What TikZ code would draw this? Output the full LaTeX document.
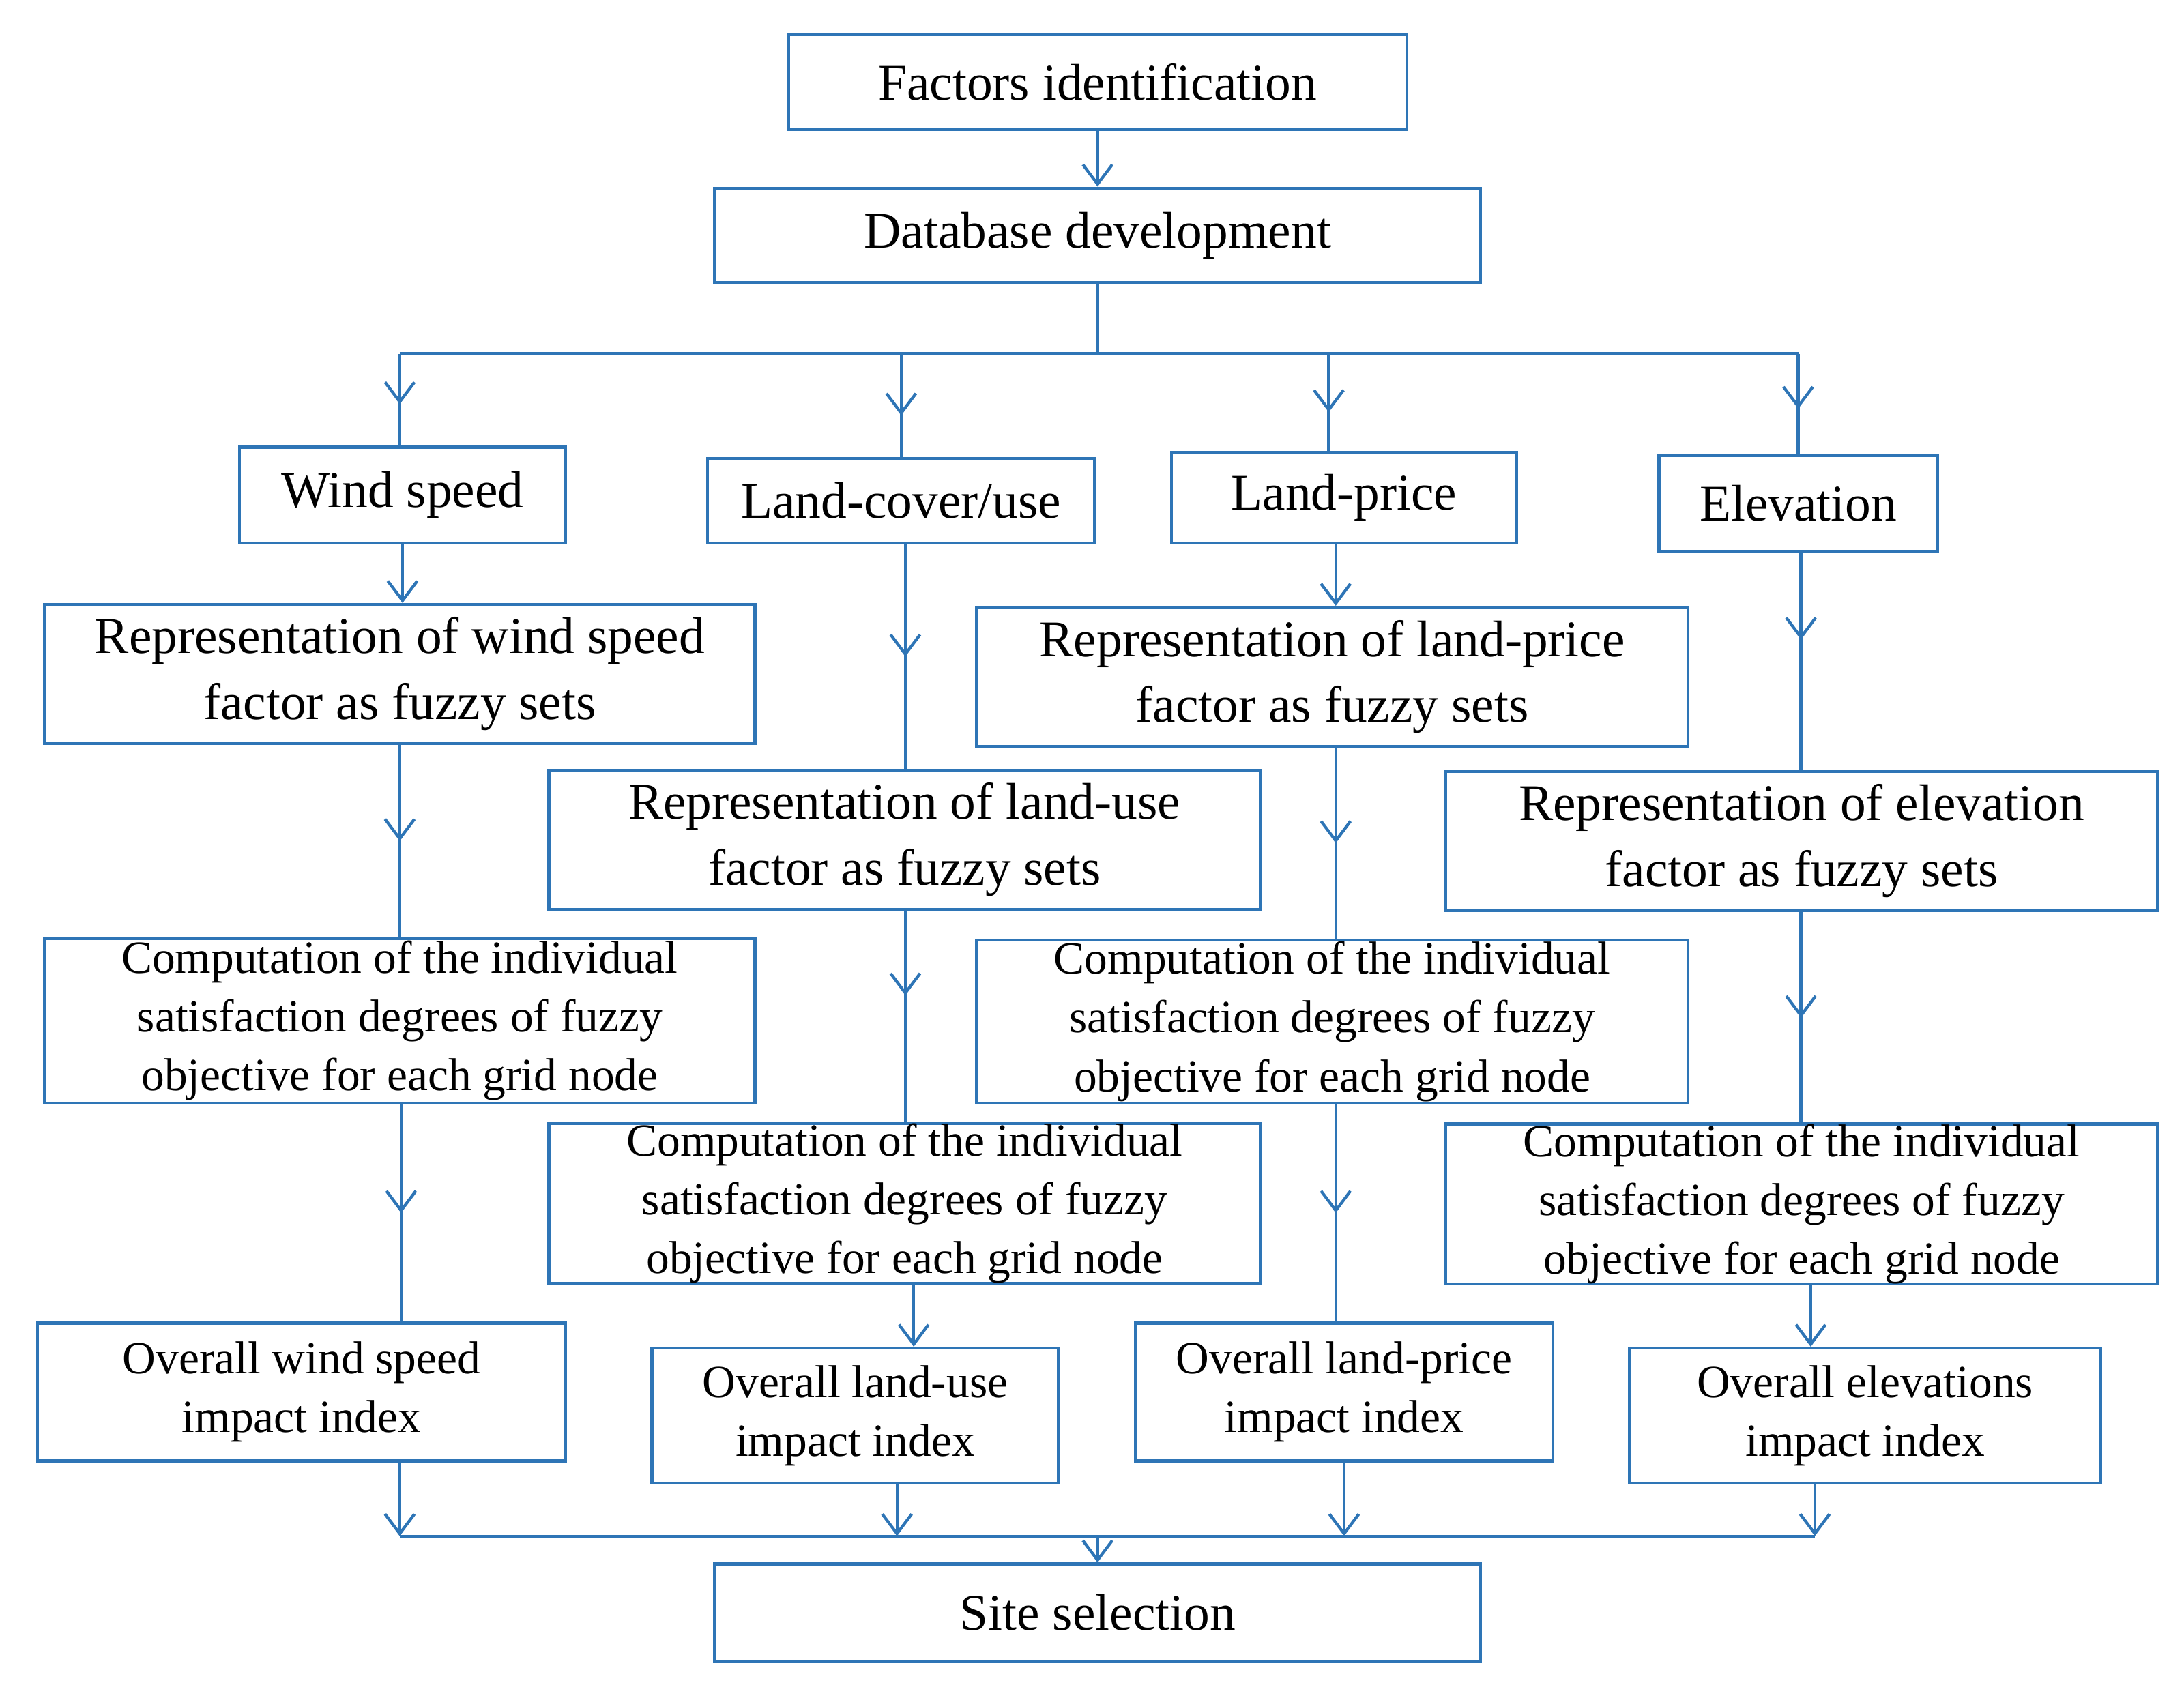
\documentclass[tikz,border=0pt]{standalone}
\usepackage{fontspec}
\setmainfont{Liberation Serif}
\usetikzlibrary{arrows.meta,decorations.markings}
\definecolor{fb}{RGB}{46,117,182}
\begin{document}
\begin{tikzpicture}[x=0.01cm,y=-0.01cm,
  box/.style={draw=fb,line width=0.6pt,inner sep=0pt,align=center,font=\fontsize{10.5}{13.5}\selectfont},
  sbox/.style={box,font=\fontsize{9.4}{12}\selectfont},
  ln/.style={draw=fb,line width=0.6pt},
  ea/.style={ln,-{Straight Barb[length=4pt,width=6pt]}},
  ma/.style={ln,postaction={decorate},decoration={markings,mark=at position #1 with {\arrow{Straight Barb[length=4pt,width=6pt]}}}},
  ma/.default=0.5]
\useasboundingbox (0,0) rectangle (1568,1219);
\newcommand{\bx}[7]{\node[#1,minimum width=#4*0.01cm-0.6pt,minimum height=#6*0.01cm-0.6pt] (#2) at (#3,#5) {#7};}
% name, cx, w, cy, h
\bx{box}{fac}{788}{446}{59}{70}{Factors identification}
\bx{box}{db}{788}{552}{169}{70}{Database development}
\bx{box}{ws}{289}{236}{355.5}{71}{Wind speed}
\bx{box}{lc}{647}{280}{359.5}{63}{Land-cover/use}
\bx{box}{lp}{965}{250}{357.5}{67}{Land-price}
\bx{box}{el}{1291}{202}{361.5}{71}{Elevation}
\bx{box}{rws}{287}{512}{484}{102}{Representation of wind speed\\factor as fuzzy sets}
\bx{box}{rlp}{956.5}{513}{486}{102}{Representation of land-price\\factor as fuzzy sets}
\bx{box}{rlu}{649.5}{513}{603}{102}{Representation of land-use\\factor as fuzzy sets}
\bx{box}{rel}{1293.5}{513}{604}{102}{Representation of elevation\\factor as fuzzy sets}
\bx{sbox}{cws}{287}{512}{733}{120}{Computation of the individual\\satisfaction degrees of fuzzy\\objective for each grid node}
\bx{sbox}{clp}{956.5}{513}{733.5}{119}{Computation of the individual\\satisfaction degrees of fuzzy\\objective for each grid node}
\bx{sbox}{clu}{649.5}{513}{864}{116}{Computation of the individual\\satisfaction degrees of fuzzy\\objective for each grid node}
\bx{sbox}{cel}{1293.5}{513}{864.5}{115}{Computation of the individual\\satisfaction degrees of fuzzy\\objective for each grid node}
\bx{sbox}{ows}{216.5}{381}{999.5}{101}{Overall wind speed\\impact index}
\bx{sbox}{olu}{614}{294}{1016.5}{99}{Overall land-use\\impact index}
\bx{sbox}{olp}{965}{302}{999.5}{101}{Overall land-price\\impact index}
\bx{sbox}{oel}{1339}{340}{1016.5}{99}{Overall elevations\\impact index}
\bx{box}{site}{788}{552}{1158}{72}{Site selection}
\coordinate (tl) at (287,254); \coordinate (tm) at (788,254); \coordinate (tr) at (1291,254);
\coordinate (bl) at (287,1103); \coordinate (bm) at (788,1103); \coordinate (br) at (1303,1103);
\draw[ea] (fac) -- (db);
\draw[ln] (db) -- (tm);
\draw[ln] (tl) -- (tr);
\draw[ma=0.55] (tl) -- (tl |- ws.north);
\draw[ma=0.6] (647,254) -- (lc.north);
\draw[ma=0.6] (954,254) -- (954,324);
\draw[ma=0.55] (tr) -- (el.north);
% wind
\draw[ea] (ws) -- (ws.south |- rws.north);
\draw[ma] (rws) -- (cws);
\draw[ma] (288,793) -- (288,949);
\draw[ea] (ows.south -| bl) -- (bl);
% land-use
\draw[ma] (650,391) -- (650,552);
\draw[ma=0.4] (650,654) -- (650,806);
\draw[ea] (656,922) -- (656,967);
\draw[ea] (644,1066) -- (644,1103);
% land-price
\draw[ea] (959,391) -- (959,435);
\draw[ma] (959,537) -- (959,674);
\draw[ma] (959,793) -- (959,949);
\draw[ea] (965,1050) -- (965,1103);
% elevation
\draw[ma=0.4] (1293,397) -- (1293,553);
\draw[ma=0.5] (1293,655) -- (1293,807);
\draw[ea] (1300,922) -- (1300,967);
\draw[ea] (1303,1066) -- (br);
\draw[ln] (bl) -- (br);
\draw[ea] (bm) -- (site);
\end{tikzpicture}
\end{document}
